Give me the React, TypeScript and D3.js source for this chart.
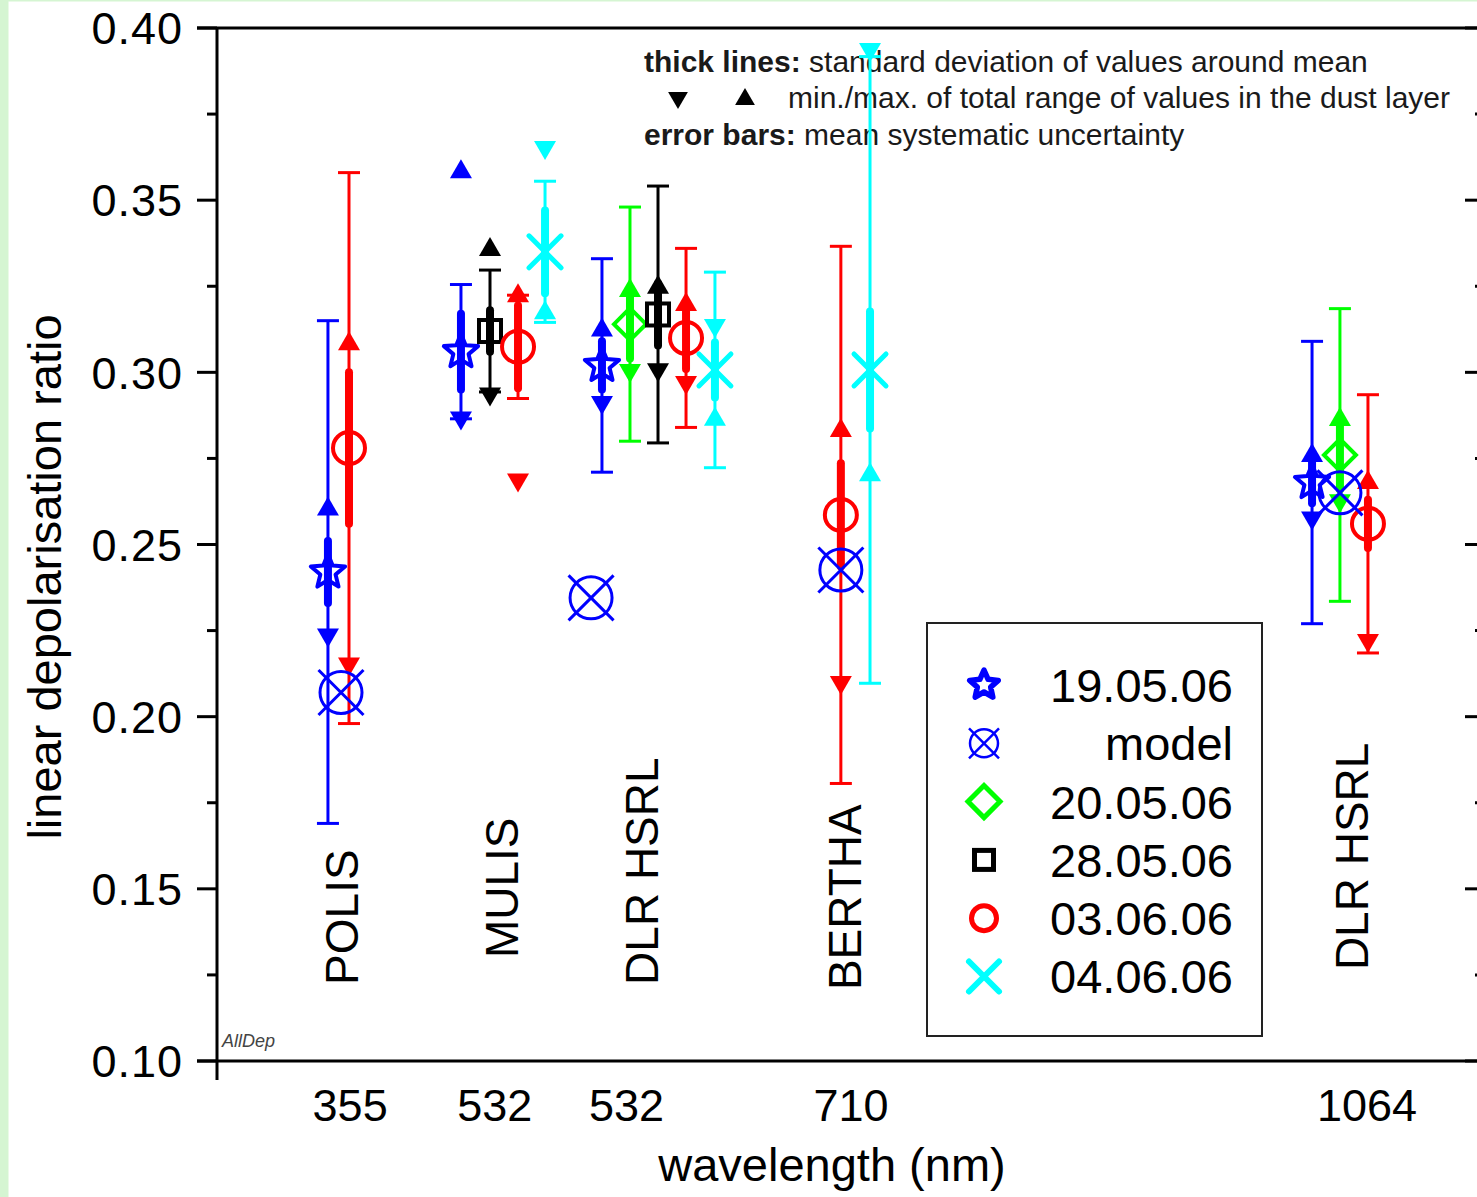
import React from 'react';
import * as d3 from 'd3';

const W = 1477;
const H = 1197;

// x axis: group positions (axis units) and labels
const tickPositions = [10.5, 21.9, 32.3, 50.0, 90.7];
const tickLabels = ['355', '532', '532', '710', '1064'];
const instrumentNames = ['POLIS', 'MULIS', 'DLR HSRL', 'BERTHA', 'DLR HSRL'];
const instrumentX = [9.8, 22.4, 33.5, 49.5, 89.5];
const instrumentBase = [0.1221, 0.1299, 0.1221, 0.1206, 0.1264];

const yTicks = [0.1, 0.15, 0.2, 0.25, 0.3, 0.35, 0.4];
const yMinorTicks = [0.125, 0.175, 0.225, 0.275, 0.325, 0.375];

type Obs = { x: number; mean: number; sd: number; err: number; down: number; up: number };

const obs190506: Obs[] = [
  { x: 8.75, mean: 0.242, sd: 0.009, err: 0.073, down: 0.223, up: 0.261 },
  { x: 19.24, mean: 0.306, sd: 0.011, err: 0.0195, down: 0.286, up: 0.359 },
  { x: 30.36, mean: 0.302, sd: 0.007, err: 0.031, down: 0.2905, up: 0.313 },
  { x: 86.36, mean: 0.268, sd: 0.006, err: 0.041, down: 0.257, up: 0.2766 },
];
const obs200506: Obs[] = [
  { x: 32.57, mean: 0.314, sd: 0.01, err: 0.034, down: 0.2998, up: 0.3245 },
  { x: 88.56, mean: 0.276, sd: 0.01, err: 0.0425, down: 0.262, up: 0.287 },
];
const obs280506: Obs[] = [
  { x: 21.53, mean: 0.312, sd: 0.006, err: 0.0177, down: 0.293, up: 0.3364 },
  { x: 34.78, mean: 0.3168, sd: 0.009, err: 0.0373, down: 0.3, up: 0.3254 },
];
const obs030606: Obs[] = [
  { x: 10.41, mean: 0.278, sd: 0.022, err: 0.08, down: 0.2146, up: 0.309 },
  { x: 23.74, mean: 0.3074, sd: 0.012, err: 0.015, down: 0.268, up: 0.323 },
  { x: 36.99, mean: 0.31, sd: 0.009, err: 0.026, down: 0.2963, up: 0.3204 },
  { x: 49.2, mean: 0.2586, sd: 0.015, err: 0.078, down: 0.2092, up: 0.2838 },
  { x: 90.77, mean: 0.256, sd: 0.007, err: 0.0375, down: 0.2214, up: 0.2687 },
];
const obs040606: Obs[] = [
  { x: 25.87, mean: 0.335, sd: 0.012, err: 0.0205, down: 0.3646, up: 0.318 },
  { x: 39.27, mean: 0.3007, sd: 0.008, err: 0.0284, down: 0.3129, up: 0.2871 },
  { x: 51.5, mean: 0.3007, sd: 0.017, err: 0.091, down: 0.393, up: 0.271 },
];
const modelX = [9.78, 29.5, 49.2, 88.56];
const modelValues = [0.207, 0.2345, 0.2426, 0.265];

const legendLabels = ['19.05.06', 'model', '20.05.06', '28.05.06', '03.06.06', '04.06.06'];
const legendMarkers = ['star', 'otimes', 'diamond', 'square', 'circle', 'x'];
const legendColors = ['#0000ff', '#0000ff', '#00ff00', '#000000', '#ff0000', '#00ffff'];

const series = [
  { data: obs190506, color: '#0000ff', marker: 'star' },
  { data: obs200506, color: '#00ff00', marker: 'diamond' },
  { data: obs280506, color: '#000000', marker: 'square' },
  { data: obs030606, color: '#ff0000', marker: 'circle' },
  { data: obs040606, color: '#00ffff', marker: 'x' },
];

const FONT = 'Liberation Sans, Arial, sans-serif';

const xScale = d3.scaleLinear().domain([0, 100]).range([217, 1485]);
const yScale = d3.scaleLinear().domain([0.1, 0.4]).range([1061, 28]);

function starPath(R: number, r: number): string {
  const pts: [number, number][] = [];
  for (let i = 0; i < 10; i++) {
    const a = -Math.PI / 2 + (i * Math.PI) / 5;
    const rad = i % 2 === 0 ? R : r;
    pts.push([rad * Math.cos(a), rad * Math.sin(a)]);
  }
  return d3.line()(pts)! + 'Z';
}

function Marker({ type, color, cx, cy, legend = false }: { type: string; color: string; cx: number; cy: number; legend?: boolean }) {
  const t = `translate(${cx},${cy})`;
  switch (type) {
    case 'star':
      return legend ? (
        <path transform={t} d={starPath(15, 7)} fill="none" stroke={color} strokeWidth={5.5} strokeLinejoin="round" />
      ) : (
        <path transform={t} d={starPath(18, 8)} fill="none" stroke={color} strokeWidth={4} strokeLinejoin="round" />
      );
    case 'otimes': {
      const r = legend ? 14 : 21;
      const h = legend ? 15 : 22.5;
      const sw = legend ? 2.5 : 3;
      return (
        <g transform={t} stroke={color} strokeWidth={sw} fill="none">
          <circle r={r} />
          <line x1={-h} y1={-h} x2={h} y2={h} />
          <line x1={-h} y1={h} x2={h} y2={-h} />
        </g>
      );
    }
    case 'diamond': {
      const h = 16;
      return <path transform={t} d={`M0,${-h}L${h},0L0,${h}L${-h},0Z`} fill="none" stroke={color} strokeWidth={legend ? 5 : 4} strokeLinejoin="miter" />;
    }
    case 'square': {
      const h = legend ? 9.5 : 11;
      return <rect transform={t} x={-h} y={-h} width={2 * h} height={2 * h} fill="none" stroke={color} strokeWidth={legend ? 5 : 4} />;
    }
    case 'circle':
      return <circle transform={t} r={legend ? 12.5 : 16} fill="none" stroke={color} strokeWidth={legend ? 5 : 4} />;
    case 'x': {
      const h = legend ? 15 : 16;
      return (
        <g transform={t} stroke={color} strokeWidth={legend ? 6 : 5} strokeLinecap="round">
          <line x1={-h} y1={-h} x2={h} y2={h} />
          <line x1={-h} y1={h} x2={h} y2={-h} />
        </g>
      );
    }
    default:
      return null;
  }
}

function TriDown({ cx, cy, color, s = 1 }: { cx: number; cy: number; color: string; s?: number }) {
  return <path transform={`translate(${cx},${cy}) scale(${s})`} d="M-11,-9L11,-9L0,10Z" fill={color} />;
}
function TriUp({ cx, cy, color, s = 1 }: { cx: number; cy: number; color: string; s?: number }) {
  return <path transform={`translate(${cx},${cy}) scale(${s})`} d="M-11,9L11,9L0,-10Z" fill={color} />;
}

function ObsMark({ d, color, marker }: { d: Obs; color: string; marker: string }) {
  const cx = xScale(d.x);
  const yTop = yScale(d.mean + d.err);
  const yBot = yScale(d.mean - d.err);
  return (
    <g>
      <line x1={cx} x2={cx} y1={yTop} y2={yBot} stroke={color} strokeWidth={3} />
      <line x1={cx - 11} x2={cx + 11} y1={yTop} y2={yTop} stroke={color} strokeWidth={3} />
      <line x1={cx - 11} x2={cx + 11} y1={yBot} y2={yBot} stroke={color} strokeWidth={3} />
      <line x1={cx} x2={cx} y1={yScale(d.mean + d.sd)} y2={yScale(d.mean - d.sd)} stroke={color} strokeWidth={8} strokeLinecap="round" />
      <TriDown cx={cx} cy={yScale(d.down)} color={color} />
      <TriUp cx={cx} cy={yScale(d.up)} color={color} />
      <Marker type={marker} color={color} cx={cx} cy={yScale(d.mean)} />
    </g>
  );
}

export default function App() {
  const x0 = xScale(0);
  const x1 = xScale(100);
  const yB = yScale(0.1);
  const yT = yScale(0.4);
  return (
    <svg width={W} height={H} style={{ position: 'absolute', left: 0, top: 0, background: '#ffffff' }} fontFamily={FONT}>
      <rect x={0} y={0} width={W} height={H} fill="#ffffff" />
      <rect x={0} y={0} width={8.5} height={H} fill="#d5f5d2" />
      <rect x={0} y={0} width={W} height={1.5} fill="#d5f5d2" />

      {/* axes frame */}
      <g stroke="#000" strokeWidth={3}>
        <line x1={x0 - 20} x2={x1} y1={yB} y2={yB} />
        <line x1={x0 - 20} x2={x1} y1={yT} y2={yT} />
        <line x1={x0} x2={x0} y1={yT} y2={yB + 19} />
        <line x1={x1} x2={x1} y1={yT} y2={yB} />
        {yTicks.map((v) => (
          <g key={'t' + v}>
            <line x1={x0 - 20} x2={x0} y1={yScale(v)} y2={yScale(v)} />
            <line x1={x1 - 20} x2={x1} y1={yScale(v)} y2={yScale(v)} />
          </g>
        ))}
        {yMinorTicks.map((v) => (
          <g key={'m' + v}>
            <line x1={x0 - 10} x2={x0} y1={yScale(v)} y2={yScale(v)} />
            <line x1={x1 - 10} x2={x1} y1={yScale(v)} y2={yScale(v)} />
          </g>
        ))}
      </g>

      {/* y tick labels */}
      {yTicks.map((v) => (
        <text key={'yl' + v} x={183} y={yScale(v)} dy="0.36em" textAnchor="end" fontSize={45} letterSpacing={1} fill="#000">
          {d3.format('.2f')(v)}
        </text>
      ))}

      {/* x tick labels */}
      {tickPositions.map((p, i) => (
        <text key={'xl' + i} x={xScale(p)} y={1121} textAnchor="middle" fontSize={45} fill="#000">
          {tickLabels[i]}
        </text>
      ))}

      {/* axis titles */}
      <text x={832} y={1181} textAnchor="middle" fontSize={47} fill="#000">wavelength (nm)</text>
      <text transform={`translate(45,${577}) rotate(-90)`} textAnchor="middle" dy="0.35em" fontSize={47} fill="#000">
        linear depolarisation ratio
      </text>

      {/* instrument names */}
      {instrumentNames.map((n, i) => (
        <text
          key={'in' + i}
          transform={`translate(${xScale(instrumentX[i])},${yScale(instrumentBase[i])}) rotate(-90)`}
          dy="0.36em"
          fontSize={46}
          fill="#000"
        >
          {n}
        </text>
      ))}

      <text x={222} y={1047} fontSize={18} fontStyle="italic" fill="#444">AllDep</text>

      {/* annotation */}
      <g fontSize={30} fill="#1a1a1a">
        <text x={644} y={72}>
          <tspan fontWeight="bold">thick lines:</tspan> standard deviation of values around mean
        </text>
        <TriDown cx={678} cy={100} color="#000" s={0.9} />
        <TriUp cx={745} cy={97} color="#000" s={0.9} />
        <text x={788} y={108}>min./max. of total range of values in the dust layer</text>
        <text x={644} y={145}>
          <tspan fontWeight="bold">error bars:</tspan> mean systematic uncertainty
        </text>
      </g>

      {/* data */}
      {series.map((s, si) => (
        <g key={'s' + si}>
          {s.data.map((d, i) => (
            <ObsMark key={i} d={d} color={s.color} marker={s.marker} />
          ))}
        </g>
      ))}
      {modelValues.map((v, i) => (
        <Marker key={'mod' + i} type="otimes" color="#0000ff" cx={xScale(modelX[i])} cy={yScale(v)} />
      ))}

      {/* legend */}
      <rect x={927} y={623} width={335} height={413} fill="#fff" stroke="#222" strokeWidth={2} />
      {legendLabels.map((l, i) => {
        const cy = 685 + i * 58.3;
        return (
          <g key={'lg' + i}>
            <Marker type={legendMarkers[i]} color={legendColors[i]} cx={984} cy={cy} legend />
            <text x={1233} y={cy} dy="0.36em" textAnchor="end" fontSize={47} fill="#000">
              {l}
            </text>
          </g>
        );
      })}
    </svg>
  );
}
